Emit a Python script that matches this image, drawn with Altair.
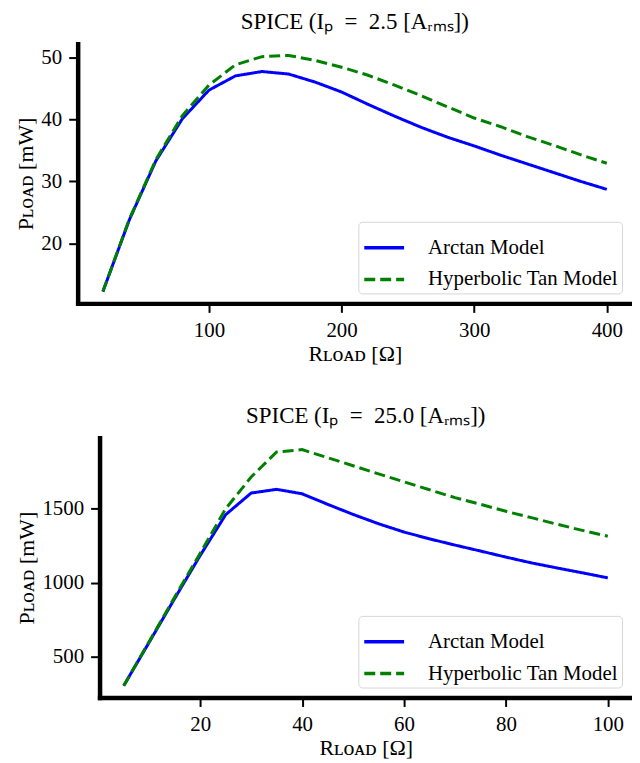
import altair as alt
import pandas as pd

# ---- data ----
series = ["Arctan Model", "Hyperbolic Tan Model"]

top_r = [20, 40, 60, 80, 100, 120, 140, 160, 180, 200,
         220, 240, 260, 280, 300, 320, 340, 360, 380, 400]
top_arctan = [12.2, 23.8, 33.3, 40.1, 44.7, 47.0, 47.7, 47.3, 46.0, 44.4,
              42.4, 40.5, 38.7, 37.1, 35.7, 34.2, 32.8, 31.4, 30.0, 28.7]
top_tanh = [12.2, 23.9, 33.5, 40.6, 45.5, 48.8, 50.1, 50.3, 49.5, 48.4,
            47.1, 45.5, 43.8, 42.0, 40.2, 38.8, 37.2, 35.8, 34.3, 32.9]

bot_r = [5, 10, 15, 20, 25, 30, 35, 40, 45, 50,
         55, 60, 65, 70, 75, 80, 85, 90, 95, 100]
bot_arctan = [307, 600, 895, 1185, 1460, 1606, 1631, 1601, 1530, 1462,
              1399, 1343, 1297, 1255, 1215, 1174, 1135, 1101, 1068, 1034]
bot_tanh = [307, 605, 905, 1200, 1500, 1714, 1883, 1899, 1845, 1790,
            1735, 1682, 1628, 1575, 1530, 1483, 1440, 1396, 1354, 1315]

top_xticks = [100, 200, 300, 400]
top_yticks = [20, 30, 40, 50]
bot_xticks = [20, 40, 60, 80, 100]
bot_yticks = [500, 1000, 1500]

# axis limits
top_xlim = [1, 419]
top_ylim = [10.3, 52.2]
bot_xlim = [0.25, 104.75]
bot_ylim = [227, 1979]

top_title = "SPICE (Iₚ\u2002=\u20022.5 [Aᵣₘₛ])"
bot_title = "SPICE (Iₚ\u2002=\u200225.0 [Aᵣₘₛ])"
x_title = "Rʟᴏᴀᴅ [Ω]"
y_title = "Pʟᴏᴀᴅ [mW]"

FONT = "Liberation Serif"
PLOT_W = 557
PLOT_H = 261


def make_df(r, a, t):
    return pd.DataFrame({
        "R": list(r) + list(r),
        "P": list(a) + list(t),
        "Model": [series[0]] * len(r) + [series[1]] * len(r),
    })


def panel(df, title, xlim, ylim, xticks, yticks, inset):
    legend = alt.Legend(
        title=None, orient="bottom-right", offset=10,
        fillColor="white", strokeColor="#d6d6d6", cornerRadius=4,
        padding=4, labelFont=FONT, labelFontSize=21, labelColor="black",
        labelOffset=22, labelLimit=400, symbolType="stroke", symbolSize=1600,
        symbolStrokeWidth=3.5, rowPadding=0,
    )
    xscale = alt.Scale(domain=xlim, nice=False, zero=False, range=[inset, PLOT_W])
    yaxis = alt.Axis(values=yticks, format="d")
    if inset:
        yaxis = alt.Axis(values=yticks, format="d", offset=-inset)
    return alt.Chart(
        df,
        title=alt.Title(title, font=FONT, fontSize=23, fontWeight="normal",
                        color="black", offset=10, frame="group", dx=inset / 2),
    ).mark_line(strokeWidth=3).encode(
        x=alt.X("R:Q", title=x_title, scale=xscale,
                axis=alt.Axis(values=xticks, format="d")),
        y=alt.Y("P:Q", title=y_title,
                scale=alt.Scale(domain=ylim, nice=False, zero=False),
                axis=yaxis),
        color=alt.Color("Model:N",
                        scale=alt.Scale(domain=series, range=["#0000ff", "#008000"]),
                        legend=legend),
        strokeDash=alt.StrokeDash("Model:N",
                                  scale=alt.Scale(domain=series, range=[[1, 0], [11, 5]]),
                                  legend=legend),
    ).properties(width=PLOT_W, height=PLOT_H)


top = panel(make_df(top_r, top_arctan, top_tanh), top_title,
            top_xlim, top_ylim, top_xticks, top_yticks, 0)
bot = panel(make_df(bot_r, bot_arctan, bot_tanh), bot_title,
            bot_xlim, bot_ylim, bot_xticks, bot_yticks, 22)

chart = alt.VConcatChart(
    vconcat=[top, bot], spacing=41,
    padding={"left": 7, "top": 1, "right": 0, "bottom": 0},
).resolve_scale(
    x="independent", y="independent", color="independent", strokeDash="independent"
).resolve_legend(
    color="independent", strokeDash="independent"
).configure_view(stroke=None).configure_axis(
    grid=False,
    domainColor="black", domainWidth=4.5, domainCap="square",
    tickColor="black", tickWidth=2, tickSize=9,
    labelFont=FONT, labelFontSize=21, labelColor="black", labelPadding=7,
    titleFont=FONT, titleFontSize=22, titleFontWeight="normal", titleColor="black",
).configure_axisY(titlePadding=3).configure_axisX(titlePadding=3)

chart.save("out.html", embed_options={"renderer": "svg", "actions": False})
